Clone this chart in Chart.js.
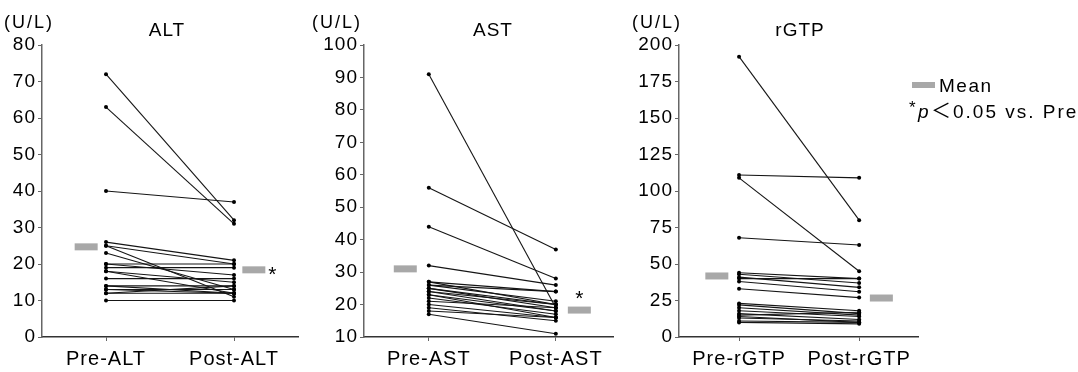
<!doctype html>
<html lang="ja">
<head>
<meta charset="utf-8">
<title>ALT / AST / rGTP</title>
<script src="https://cdn.jsdelivr.net/npm/chart.js@4.4.0/dist/chart.umd.min.js"></script>
<style>
  html, body { margin: 0; padding: 0; background: #fff; }
  #wrap { position: relative; width: 1078px; height: 372px; }
  #wrap canvas { position: absolute; left: 0; top: 0; }
</style>
</head>
<body>
<div id="wrap">
  <canvas id="altChart" width="1078" height="372"></canvas>
  <canvas id="astChart" width="1078" height="372"></canvas>
  <canvas id="gtpChart" width="1078" height="372"></canvas>
</div>
<script>
// values (U/L); pre[i] and post[i] are the same subject
const altLabels = ['Pre-ALT', 'Post-ALT'];
const altPre  = [72, 63, 40, 26, 25, 25, 23, 20, 20, 19, 18, 18, 16, 14, 14, 13, 13, 12, 12, 10];
const altPost = [32, 31, 37, 21, 11, 20, 13, 20, 17, 19, 15, 12, 16, 12, 14, 13, 12, 12, 14, 10];
const altMean = [24.7, 18.4];
const altYTicks = [0, 10, 20, 30, 40, 50, 60, 70, 80];

const astLabels = ['Pre-AST', 'Post-AST'];
const astPre  = [91, 56, 44, 32, 27, 27, 26, 26, 25, 25, 24, 24, 23, 23, 22, 21, 20, 19, 18, 17];
const astPost = [19, 37, 28, 26, 24, 20, 24, 21, 20, 19, 20, 18, 18, 16, 17, 19, 16, 15, 16, 11];
const astMean = [31.0, 18.3];
const astYTicks = [10, 20, 30, 40, 50, 60, 70, 80, 90, 100];

const gtpLabels = ['Pre-rGTP', 'Post-rGTP'];
const gtpPre  = [192, 111, 109, 68, 44, 43, 41, 40, 38, 33, 23, 22, 20, 18, 16, 15, 14, 13, 11, 10];
const gtpPost = [80, 109, 45, 63, 40, 37, 34, 40, 31, 27, 18, 16, 15, 14, 12, 17, 10, 11, 10, 9];
const gtpMean = [41.8, 26.7];
const gtpYTicks = [0, 25, 50, 75, 100, 125, 150, 175, 200];

const FONT = "'Liberation Sans', Arial, Helvetica, sans-serif";
const INK = '#000';
const MEAN_GREY = '#a8a8a8';

function makePanel(id, p) {
  const datasets = p.pre.map(function (v, i) {
    return {
      data: [{x: 0, y: v}, {x: 1, y: p.post[i]}],
      borderColor: '#151515',
      borderWidth: 1.1,
      pointRadius: 2,
      pointBackgroundColor: '#000',
      pointBorderWidth: 0
    };
  });
  // mean markers, shifted left of Pre and right of Post
  datasets.push({
    type: 'scatter',
    data: [{x: -p.meanShift, y: p.mean[0]}, {x: 1 + p.meanShift, y: p.mean[1]}],
    pointStyle: 'line',
    pointRadius: 11.5,
    pointBorderWidth: 7,
    pointBorderColor: MEAN_GREY,
    pointBackgroundColor: MEAN_GREY
  });

  const axisGrid = {
    display: true, drawOnChartArea: false, drawTicks: true,
    tickLength: 4, color: '#666', lineWidth: 1
  };

  const panelText = {
    id: 'panelText',
    beforeDraw(chart) {
      chart.ctx.letterSpacing = '1px';
    },
    afterDraw(chart) {
      const ctx = chart.ctx;
      const xs = chart.scales.x, ys = chart.scales.y;
      ctx.save();
      ctx.fillStyle = INK;
      ctx.textBaseline = 'alphabetic';

      ctx.letterSpacing = '2px';
      ctx.font = '18px ' + FONT;
      ctx.textAlign = 'left';
      ctx.fillText('(U/L)', p.unitX, 28);

      ctx.letterSpacing = '1px';
      ctx.font = '19px ' + FONT;
      ctx.textAlign = 'center';
      ctx.fillText(p.title, p.titleX, 35.5);

      if (p.star) {
        const mx = xs.getPixelForValue(1 + p.meanShift);
        const my = ys.getPixelForValue(p.mean[1]);
        ctx.letterSpacing = '0px';
        ctx.font = '21px ' + FONT;
        ctx.fillText('*', mx + p.star[0], my + p.star[1]);
      }

      if (p.legend) {
        ctx.fillStyle = MEAN_GREY;
        ctx.fillRect(912, 82, 23, 6);
        ctx.fillStyle = INK;
        ctx.textAlign = 'left';
        ctx.letterSpacing = '1.5px';
        ctx.font = '19px ' + FONT;
        ctx.fillText('Mean', 939, 91.5);
        ctx.letterSpacing = '0px';
        ctx.font = '17px ' + FONT;
        ctx.fillText('*', 909, 113);
        ctx.font = 'italic 19px ' + FONT;
        ctx.fillText('p', 918, 117.5);
        ctx.font = "20px 'Noto Sans CJK JP', " + FONT;
        ctx.fillText('＜', 931, 118);
        ctx.letterSpacing = '2px';
        ctx.font = '19px ' + FONT;
        ctx.fillText('0.05 vs. Pre', 953, 117.5);
      }
      ctx.restore();
    }
  };

  return new Chart(document.getElementById(id), {
    type: 'line',
    data: { datasets: datasets },
    options: {
      responsive: false,
      animation: false,
      events: [],
      layout: {
        padding: { left: p.left - 42, right: 1078 - p.right, top: 45, bottom: 0 }
      },
      plugins: { legend: { display: false }, tooltip: { enabled: false }, title: { display: false } },
      scales: {
        x: {
          type: 'linear',
          min: p.xMin,
          max: p.xMax,
          afterBuildTicks: function (s) { s.ticks = [{value: 0}, {value: 1}]; },
          afterFit: function (s) { s.height = 35; },
          ticks: {
            callback: function (v) { return p.labels[v]; },
            font: { family: FONT, size: 20 },
            color: INK,
            padding: 6,
            maxRotation: 0,
            autoSkip: false
          },
          grid: axisGrid,
          border: { color: '#333', width: 1.5 }
        },
        y: {
          min: p.yTicks[0],
          max: p.yTicks[p.yTicks.length - 1],
          afterBuildTicks: function (s) { s.ticks = p.yTicks.map(function (v) { return {value: v}; }); },
          afterFit: function (s) { s.width = 42; },
          ticks: {
            font: { family: FONT, size: 19 },
            color: INK,
            padding: 2
          },
          grid: axisGrid,
          border: { color: '#666', width: 1.5 }
        }
      }
    },
    plugins: [panelText]
  });
}

makePanel('altChart', {
  labels: altLabels, pre: altPre, post: altPost, mean: altMean, yTicks: altYTicks,
  left: 42, right: 298, xMin: -0.5, xMax: 1.5, meanShift: 0.155,
  title: 'ALT', titleX: 167, unitX: 4, star: [18.5, 11.5], legend: false
});
makePanel('astChart', {
  labels: astLabels, pre: astPre, post: astPost, mean: astMean, yTicks: astYTicks,
  left: 364, right: 613, xMin: -0.51, xMax: 1.45, meanShift: 0.185,
  title: 'AST', titleX: 493, unitX: 312, star: [0, -5], legend: false
});
makePanel('gtpChart', {
  labels: gtpLabels, pre: gtpPre, post: gtpPost, mean: gtpMean, yTicks: gtpYTicks,
  left: 679, right: 918, xMin: -0.5, xMax: 1.49, meanShift: 0.185,
  title: 'rGTP', titleX: 800, unitX: 632, star: null, legend: true
});
</script>
</body>
</html>
